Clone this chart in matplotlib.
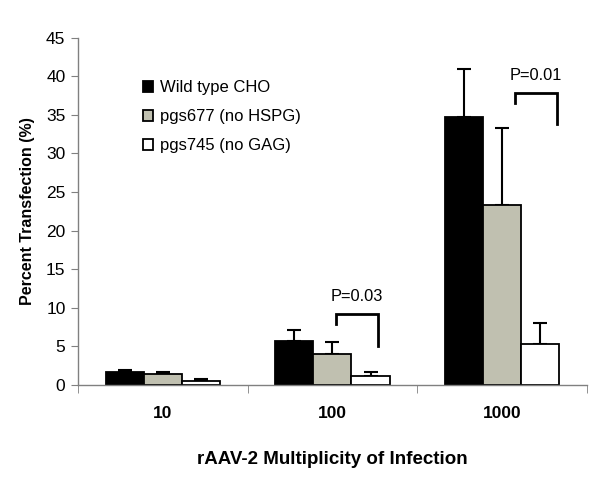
import numpy as np
import matplotlib.pyplot as plt

plt.rcParams['font.family'] = ['Liberation Sans', 'DejaVu Sans']

# data
moi = ['10', '100', '1000']
series = ['Wild type CHO', 'pgs677 (no HSPG)', 'pgs745 (no GAG)']
wild = [1.6, 5.7, 34.7]
wild_err = [0.35, 1.45, 6.3]
pgs677 = [1.35, 3.95, 23.3]
pgs677_err = [0.35, 1.65, 10.0]
pgs745 = [0.55, 1.2, 5.3]
pgs745_err = [0.22, 0.5, 2.7]
colors = ['black', '#c0c0b0', 'white']

# p-value brackets: (group, p text, left y, top y, right y)
brackets = [(1, 'P=0.03', 7.9, 9.2, 5.05), (2, 'P=0.01', 36.6, 37.9, 33.8)]

fig = plt.figure(figsize=(6, 4.78), dpi=100)
ax = fig.add_axes([0.13, 0.195, 0.848, 0.726])

x = np.arange(len(moi))
w = 0.225
for i, (vals, errs) in enumerate([(wild, wild_err), (pgs677, pgs677_err), (pgs745, pgs745_err)]):
    pos = x + (i - 1) * w
    ax.bar(pos, vals, w, color=colors[i], edgecolor='black', linewidth=1.3,
           label=series[i], zorder=2)
    ax.errorbar(pos, vals, yerr=[np.zeros(len(vals)), errs], fmt='none',
                ecolor='black', elinewidth=1.5, capsize=5, capthick=1.5, zorder=1)

for g, txt, yl, yt, yr in brackets:
    xl = g + 0.02 if g == 1 else g + 0.075
    xr = g + 0.27 if g == 1 else g + 0.325
    ax.plot([xl, xl, xr, xr], [yl, yt, yt, yr], color='black', lw=2,
            solid_joinstyle='miter')
    ax.text((xl + xr) / 2, yt + 2.2, txt, ha='center', va='center', fontsize=11.8)

ax.set_xlim(-0.5, 2.5)
ax.set_ylim(0, 45)
ax.set_yticks(range(0, 46, 5))
ax.set_xticks(x)
ax.set_xticklabels(moi, fontweight='bold', fontsize=12.5)
ax.set_xticks([-0.5, 0.5, 1.5, 2.5], minor=True)
ax.tick_params(axis='x', which='major', length=0, pad=15)
ax.tick_params(axis='x', which='minor', length=6, color='#808080', direction='out')
ax.tick_params(axis='y', length=5, color='#808080', labelsize=12.5, pad=4)
for s in ['top', 'right']:
    ax.spines[s].set_visible(False)
for s in ['left', 'bottom']:
    ax.spines[s].set_color('#808080')
    ax.spines[s].set_linewidth(1)

ax.set_ylabel('Percent Transfection (%)', fontweight='bold', fontsize=11.5, labelpad=8)
ax.set_xlabel('rAAV-2 Multiplicity of Infection', fontweight='bold', fontsize=13.5, labelpad=22)

ax.legend(loc='upper left', bbox_to_anchor=(0.128, 0.878), frameon=False, fontsize=12,
          borderaxespad=0, borderpad=0,
          handlelength=0.6, handleheight=0.6, handletextpad=0.42, labelspacing=0.85)

fig.savefig('out.png', dpi=100)
